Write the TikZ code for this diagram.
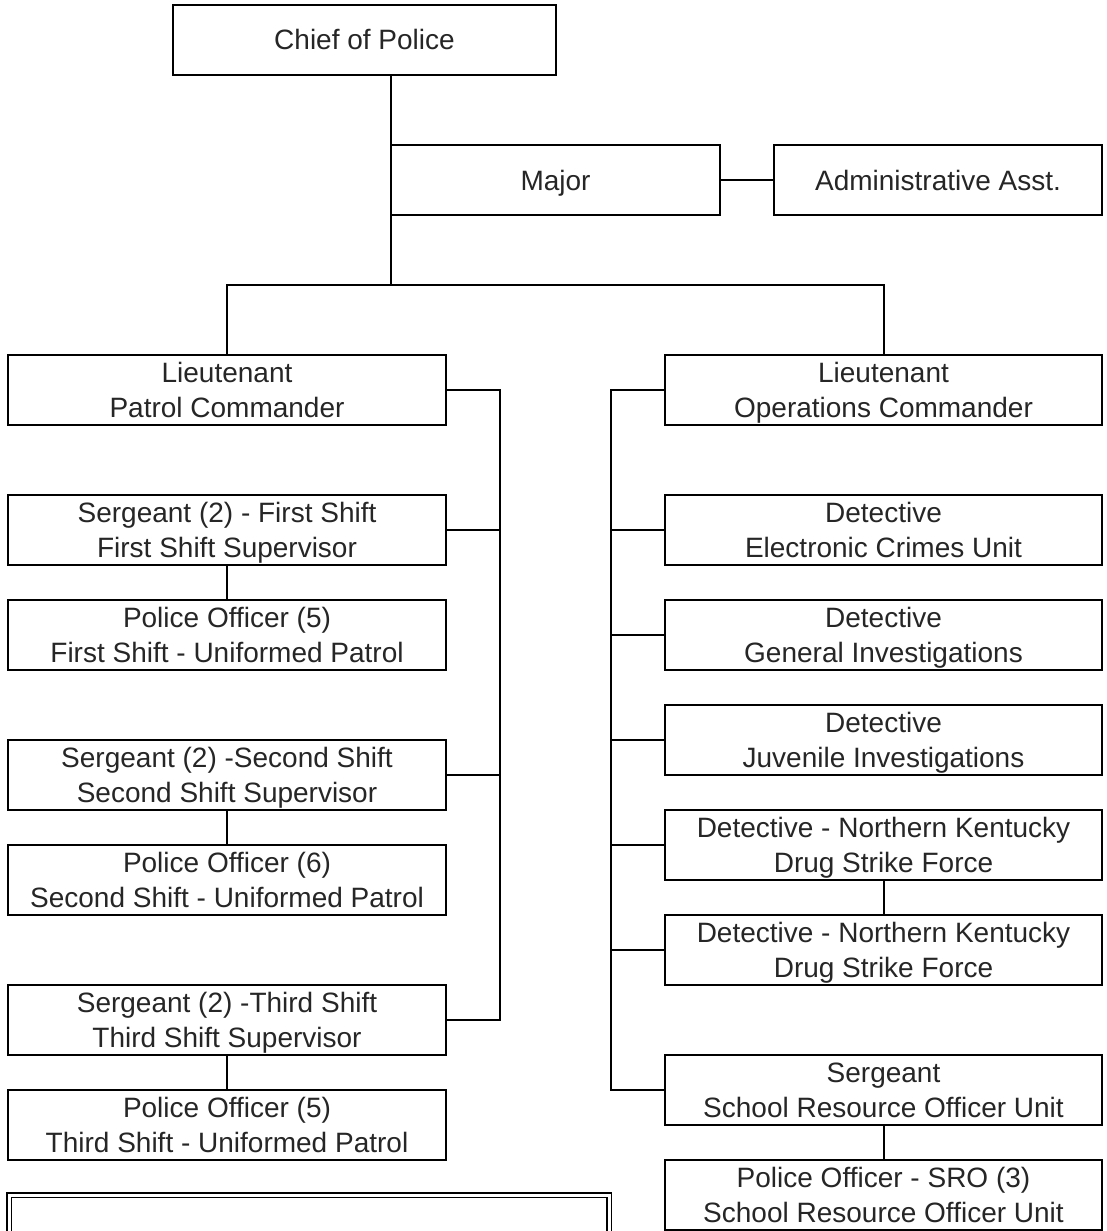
\documentclass[tikz,border=0pt]{standalone}
\usepackage{fontspec}
\setmainfont{Liberation Sans}
\newcommand\mystrut{\rule[-7.5pt]{0pt}{35pt}}
\begin{document}
\begin{tikzpicture}[x=1pt,y=-1pt,
  box/.style={draw, line width=2pt, outer sep=0pt, minimum height=70pt, inner sep=0pt, align=center,
    font=\fontsize{28}{35}\selectfont, text=black!85},
  wl/.style={box, minimum width=438pt},
  wr/.style={box, minimum width=437pt},
  conn/.style={line width=2pt, line cap=rect}]
\clip (0,0) rectangle (1106,1231);
\fill[white] (0,0) rectangle (1106,1231);
% top
\node[box, minimum width=383pt] (chief) at (364.5,40) {\mystrut Chief of Police};
\node[box, minimum width=329pt] (major) at (555.5,180) {\mystrut Major};
\node[box, minimum width=328pt] (admin) at (938,180) {\mystrut Administrative Asst.};
% left column
\node[wl] (ltL) at (227,390) {\mystrut Lieutenant\\\mystrut Patrol Commander};
\node[wl] (sgt1) at (227,530) {\mystrut Sergeant (2) - First Shift\\\mystrut First Shift Supervisor};
\node[wl] (po1) at (227,635) {\mystrut Police Officer (5)\\\mystrut First Shift - Uniformed Patrol};
\node[wl] (sgt2) at (227,775) {\mystrut Sergeant (2) -Second Shift\\\mystrut Second Shift Supervisor};
\node[wl] (po2) at (227,880) {\mystrut Police Officer (6)\\\mystrut Second Shift - Uniformed Patrol};
\node[wl] (sgt3) at (227,1020) {\mystrut Sergeant (2) -Third Shift\\\mystrut Third Shift Supervisor};
\node[wl] (po3) at (227,1125) {\mystrut Police Officer (5)\\\mystrut Third Shift - Uniformed Patrol};
% right column
\node[wr] (ltR) at (883.5,390) {\mystrut Lieutenant\\\mystrut Operations Commander};
\node[wr] (ecu) at (883.5,530) {\mystrut Detective\\\mystrut Electronic Crimes Unit};
\node[wr] (gi) at (883.5,635) {\mystrut Detective\\\mystrut General Investigations};
\node[wr] (ji) at (883.5,740) {\mystrut Detective\\\mystrut Juvenile Investigations};
\node[wr] (nk1) at (883.5,845) {\mystrut Detective - Northern Kentucky\\\mystrut Drug Strike Force};
\node[wr] (nk2) at (883.5,950) {\mystrut Detective - Northern Kentucky\\\mystrut Drug Strike Force};
\node[wr] (sros) at (883.5,1090) {\mystrut Sergeant\\\mystrut School Resource Officer Unit};
\node[wr] (sropo) at (883.5,1195) {\mystrut Police Officer - SRO (3)\\\mystrut School Resource Officer Unit};
% empty double-bordered box at the bottom
\node[draw, line width=1.5pt, double, double distance=3pt, minimum width=600pt,
  minimum height=100pt, anchor=north west] (legend) at (8.5,1194.5) {};
% connector points
\coordinate (j1) at (391,285);
\coordinate (lb) at (500,390);
\coordinate (rb) at (611,390);
% connectors
\draw[conn] (chief.south -| major.west) -- (j1);
\draw[conn] (major.east) -- (admin.west);
\draw[conn] (ltL.north) -- (ltL.north |- j1) -- (ltR.north |- j1) -- (ltR.north);
\draw[conn] (ltL.east) -- (lb) -- (sgt3.east -| lb) -- (sgt3.east);
\draw[conn] (sgt1.east) -- (sgt1.east -| lb);
\draw[conn] (sgt2.east) -- (sgt2.east -| lb);
\draw[conn] (sgt1.south) -- (po1.north);
\draw[conn] (sgt2.south) -- (po2.north);
\draw[conn] (sgt3.south) -- (po3.north);
\draw[conn] (ltR.west) -- (rb) -- (sros.west -| rb) -- (sros.west);
\draw[conn] (ecu.west) -- (ecu.west -| rb);
\draw[conn] (gi.west) -- (gi.west -| rb);
\draw[conn] (ji.west) -- (ji.west -| rb);
\draw[conn] (nk1.west) -- (nk1.west -| rb);
\draw[conn] (nk2.west) -- (nk2.west -| rb);
\draw[conn] (nk1.south) -- (nk2.north);
\draw[conn] (sros.south) -- (sropo.north);
\end{tikzpicture}
\end{document}
